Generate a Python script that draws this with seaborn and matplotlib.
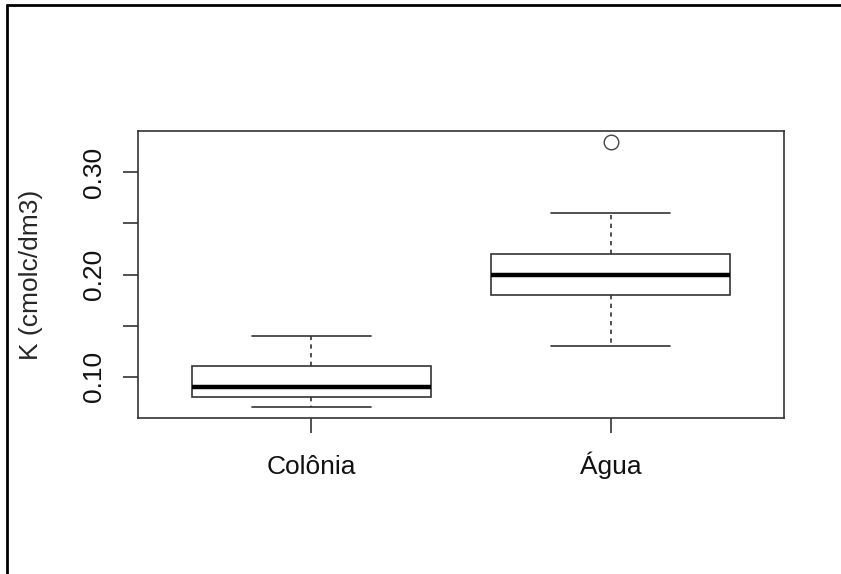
import matplotlib
matplotlib.use("Agg")
import matplotlib.pyplot as plt
from matplotlib.lines import Line2D
import seaborn as sns
import pandas as pd

# Data (values chosen to reproduce the visible five-number summaries)
categories = ["Colônia", "Água"]
colonia_values = [0.07, 0.08, 0.08, 0.09, 0.09, 0.10, 0.11, 0.12, 0.14]
agua_values = [0.13, 0.17, 0.18, 0.19, 0.20, 0.21, 0.22, 0.26, 0.33]
y_ticks = [0.10, 0.15, 0.20, 0.25, 0.30]
y_tick_labels = ["0.10", "", "0.20", "", "0.30"]
y_label = "K (cmolc/dm3)"

df = pd.DataFrame({
    "grupo": [categories[0]] * len(colonia_values) + [categories[1]] * len(agua_values),
    "K": colonia_values + agua_values,
})

sns.set_theme(style="white")
plt.rcParams["font.family"] = ["Liberation Sans", "DejaVu Sans"]

fig = plt.figure(figsize=(8.41, 5.74), dpi=100)
ax = fig.add_axes([138 / 841, 1 - 418 / 574, (784 - 138) / 841, (418 - 131) / 574])

lw = 1.2
sns.boxplot(
    data=df, x="grupo", y="K", order=categories, ax=ax,
    color="white", linecolor="#222222", linewidth=lw, width=0.8, whis=1.5,
    medianprops=dict(color="black", linewidth=3.2),
    whiskerprops=dict(linestyle=(0, (2.6, 2.6)), color="#333333", linewidth=lw),
    capprops=dict(linestyle="-", color="#333333", linewidth=lw),
    boxprops=dict(edgecolor="#333333", facecolor="white", linewidth=lw),
    flierprops=dict(marker="o", markersize=10.5, markerfacecolor="white",
                    markeredgecolor="#444444", markeredgewidth=1.0),
)

ax.set_xlim(-0.58, 1.58)
ax.set_ylim(0.0596, 0.3404)
ax.set_yticks(y_ticks)
ax.set_yticklabels(y_tick_labels, rotation=90, va="center")
ax.set_xticks([0, 1])
ax.set_xticklabels(categories, va="baseline")
ax.set_xlabel("")
ax.set_ylabel(y_label, fontsize=19, labelpad=28)

for s in ax.spines.values():
    s.set_visible(True)
    s.set_color("#333333")
    s.set_linewidth(lw)

ax.tick_params(axis="both", which="both", direction="out", length=11, width=lw,
               color="#333333", labelsize=19, labelcolor="#111111",
               left=True, bottom=True)
ax.tick_params(axis="y", pad=12)
ax.tick_params(axis="x", pad=29.5)

# outer screenshot border (left and top)
fig.add_artist(Line2D([7 / 841, 1.0], [1 - 5 / 574, 1 - 5 / 574],
                      transform=fig.transFigure, color="black", linewidth=2.0))
fig.add_artist(Line2D([7 / 841, 7 / 841], [0.0, 1 - 5 / 574],
                      transform=fig.transFigure, color="black", linewidth=2.0))

fig.savefig("out.png", dpi=100, facecolor="white")
